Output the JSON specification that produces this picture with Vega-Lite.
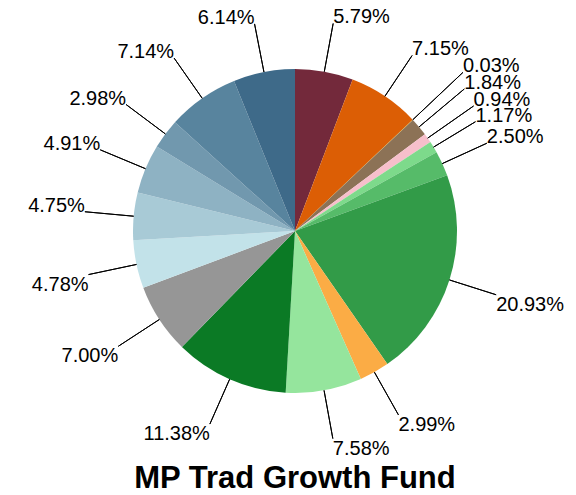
{
  "$schema": "https://vega.github.io/schema/vega-lite/v6.json",
  "width": 562,
  "height": 462,
  "autosize": "none",
  "padding": {"left": 14, "top": 0, "right": 0, "bottom": 33},
  "background": "white",
  "title": {"text": "MP Trad Growth Fund", "orient": "bottom", "anchor": "middle", "font": "Liberation Sans", "fontSize": 31, "fontWeight": "bold", "color": "black", "baseline": "alphabetic", "offset": 26},
  "view": {"stroke": null},
  "data": {"values": [
    {"idx": 1, "value": 5.79, "label": "5.79%"},
    {"idx": 2, "value": 7.15, "label": "7.15%"},
    {"idx": 3, "value": 0.03, "label": "0.03%"},
    {"idx": 4, "value": 1.84, "label": "1.84%"},
    {"idx": 5, "value": 0.94, "label": "0.94%"},
    {"idx": 6, "value": 1.17, "label": "1.17%"},
    {"idx": 7, "value": 2.50, "label": "2.50%"},
    {"idx": 8, "value": 20.93, "label": "20.93%"},
    {"idx": 9, "value": 2.99, "label": "2.99%"},
    {"idx": 10, "value": 7.58, "label": "7.58%"},
    {"idx": 11, "value": 11.38, "label": "11.38%"},
    {"idx": 12, "value": 7.00, "label": "7.00%"},
    {"idx": 13, "value": 4.78, "label": "4.78%"},
    {"idx": 14, "value": 4.75, "label": "4.75%"},
    {"idx": 15, "value": 4.91, "label": "4.91%"},
    {"idx": 16, "value": 2.98, "label": "2.98%"},
    {"idx": 17, "value": 7.14, "label": "7.14%"},
    {"idx": 18, "value": 6.14, "label": "6.14%"}
  ]},
  "encoding": {
    "theta": {"field": "value", "type": "quantitative", "stack": true},
    "order": {"field": "idx", "type": "quantitative"}
  },
  "layer": [
    {
      "mark": {"type": "arc", "outerRadius": 162, "innerRadius": 0},
      "encoding": {
        "color": {"field": "label", "type": "nominal", "legend": null,
          "scale": {
            "domain": ["5.79%","7.15%","0.03%","1.84%","0.94%","1.17%","2.50%","20.93%","2.99%","7.58%","11.38%","7.00%","4.78%","4.75%","4.91%","2.98%","7.14%","6.14%"],
            "range": ["#73293b","#dc5e05","#e6b400","#8c7256","#f7bfcb","#7dda8b","#56bb69","#329b48","#fbac45","#95e59d","#0b7a25","#969696","#c2e2e9","#a8cad6","#8eb2c3","#7198ae","#58849e","#3e6a89"]
          }
        }
      }
    },
    {
      "mark": {"type": "arc", "innerRadius": 162, "outerRadius": 211, "padAngle": 3, "fill": null, "stroke": "black", "strokeWidth": 1},
      "encoding": {"strokeOpacity": {"condition": {"test": "datum.idx == 3 || datum.idx == 4 || datum.idx == 5", "value": 0}, "value": 1}}
    },
    {
      "mark": {"type": "arc", "innerRadius": 162, "outerRadius": 231, "padAngle": 3, "fill": null, "stroke": "black", "strokeWidth": 1},
      "encoding": {"strokeOpacity": {"condition": {"test": "datum.idx == 3", "value": 1}, "value": 0}}
    },
    {
      "mark": {"type": "arc", "innerRadius": 162, "outerRadius": 221, "padAngle": 3, "fill": null, "stroke": "black", "strokeWidth": 1},
      "encoding": {"strokeOpacity": {"condition": {"test": "datum.idx == 4", "value": 1}, "value": 0}}
    },
    {
      "mark": {"type": "arc", "innerRadius": 162, "outerRadius": 218, "padAngle": 3, "fill": null, "stroke": "black", "strokeWidth": 1},
      "encoding": {"strokeOpacity": {"condition": {"test": "datum.idx == 5", "value": 1}, "value": 0}}
    },
    {
      "mark": {"type": "text", "radius": 211, "align": "left", "baseline": "alphabetic", "font": "Liberation Sans", "fontSize": 20, "fill": "black"},
      "encoding": {
        "text": {"field": "label"},
        "opacity": {"condition": {"test": "datum.value_start + datum.value_end < 50 && datum.idx != 3 && datum.idx != 4 && datum.idx != 5", "value": 1}, "value": 0}
      }
    },
    {
      "mark": {"type": "text", "radius": 231, "align": "left", "baseline": "alphabetic", "font": "Liberation Sans", "fontSize": 20, "fill": "black"},
      "encoding": {
        "text": {"field": "label"},
        "opacity": {"condition": {"test": "datum.idx == 3", "value": 1}, "value": 0}
      }
    },
    {
      "mark": {"type": "text", "radius": 221, "align": "left", "baseline": "alphabetic", "font": "Liberation Sans", "fontSize": 20, "fill": "black"},
      "encoding": {
        "text": {"field": "label"},
        "opacity": {"condition": {"test": "datum.idx == 4", "value": 1}, "value": 0}
      }
    },
    {
      "mark": {"type": "text", "radius": 218, "align": "left", "baseline": "alphabetic", "font": "Liberation Sans", "fontSize": 20, "fill": "black"},
      "encoding": {
        "text": {"field": "label"},
        "opacity": {"condition": {"test": "datum.idx == 5", "value": 1}, "value": 0}
      }
    },
    {
      "mark": {"type": "text", "radius": 211, "align": "left", "baseline": "top", "font": "Liberation Sans", "fontSize": 20, "fill": "black"},
      "encoding": {
        "text": {"field": "label"},
        "opacity": {"condition": {"test": "datum.value_start + datum.value_end >= 50 && datum.value_start + datum.value_end < 100", "value": 1}, "value": 0}
      }
    },
    {
      "mark": {"type": "text", "radius": 211, "align": "right", "baseline": "top", "font": "Liberation Sans", "fontSize": 20, "fill": "black"},
      "encoding": {
        "text": {"field": "label"},
        "opacity": {"condition": {"test": "datum.value_start + datum.value_end >= 100 && datum.value_start + datum.value_end < 150", "value": 1}, "value": 0}
      }
    },
    {
      "mark": {"type": "text", "radius": 211, "align": "right", "baseline": "alphabetic", "font": "Liberation Sans", "fontSize": 20, "fill": "black"},
      "encoding": {
        "text": {"field": "label"},
        "opacity": {"condition": {"test": "datum.value_start + datum.value_end >= 150", "value": 1}, "value": 0}
      }
    }
  ]
}
